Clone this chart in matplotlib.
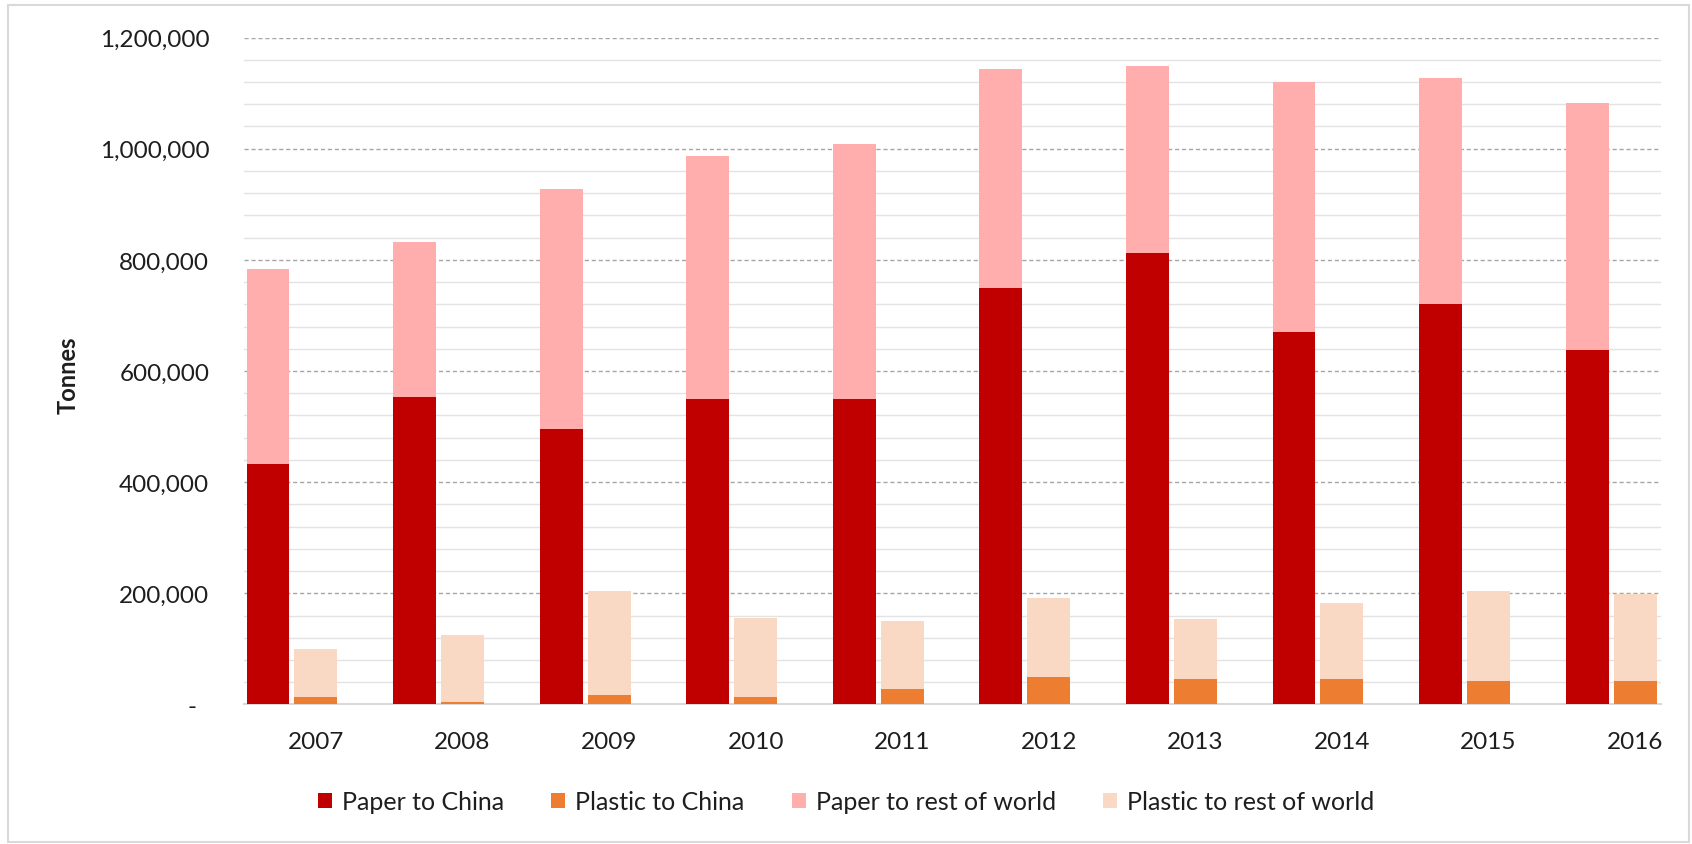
import matplotlib.pyplot as plt
from matplotlib.ticker import MultipleLocator, FuncFormatter
from matplotlib.patches import Rectangle
import numpy as np

plt.rcParams['font.family'] = ['Lato', 'DejaVu Sans']

# data (tonnes)
years = ['2007', '2008', '2009', '2010', '2011', '2012', '2013', '2014', '2015', '2016']
paper_china = [433000, 553000, 495000, 550000, 550000, 750000, 812000, 670000, 720000, 637000]
paper_total = [783000, 833000, 928000, 986000, 1008000, 1144000, 1148000, 1120000, 1128000, 1082000]
plastic_china = [13000, 5000, 17000, 14000, 27000, 50000, 46000, 46000, 42000, 42000]
plastic_total = [100000, 124500, 204000, 155000, 150000, 192000, 153000, 183000, 204000, 199000]

paper_rest = [t - c for t, c in zip(paper_total, paper_china)]
plastic_rest = [t - c for t, c in zip(plastic_total, plastic_china)]

c_paper_china = '#C00000'
c_plastic_china = '#ED7D31'
c_paper_rest = '#FFADAD'
c_plastic_rest = '#F9D9C4'
txt = '#1E1E1E'

fig = plt.figure(figsize=(16.92, 8.45), dpi=100)
ax = fig.add_axes([0.1442, 0.1651, 0.9817 - 0.1442, 0.9544 - 0.1651])

x = np.arange(len(years))
w = 0.293
off = 0.327

ax.bar(x - off, paper_china, w, color=c_paper_china, label='Paper to China', zorder=3)
ax.bar(x - off, paper_rest, w, bottom=paper_china, color=c_paper_rest, label='Paper to rest of world', zorder=3)
ax.bar(x, plastic_china, w, color=c_plastic_china, label='Plastic to China', zorder=3)
ax.bar(x, plastic_rest, w, bottom=plastic_china, color=c_plastic_rest, label='Plastic to rest of world', zorder=3)

ax.set_xlim(-0.491, 9.177)
ax.set_ylim(0, 1200000)

# gridlines: major every 200k dashed, minor every 40k solid
ax.yaxis.set_major_locator(MultipleLocator(200000))
ax.yaxis.set_minor_locator(MultipleLocator(40000))
ax.grid(axis='y', which='major', color='#A6A6A6', linestyle=(0, (3, 2)), linewidth=1, zorder=0)
ax.grid(axis='y', which='minor', color='#E3E3E3', linestyle='-', linewidth=1, zorder=0)
ax.yaxis.set_major_formatter(FuncFormatter(lambda v, p: '-  ' if v == 0 else f'{int(v):,}'))

ax.set_xticks(x)
ax.set_xticklabels(years)
ax.tick_params(axis='both', which='both', length=0, labelsize=17.5, colors=txt)
ax.tick_params(axis='y', pad=25)
ax.tick_params(axis='x', pad=19)

for s in ['top', 'right', 'left']:
    ax.spines[s].set_visible(False)
ax.spines['bottom'].set_color('#D9D9D9')
ax.spines['bottom'].set_linewidth(1.5)

fig.text(68 / 1692, 1 - 375 / 845, 'Tonnes', rotation=90, ha='center', va='center',
         fontsize=17, fontweight='bold', color=txt)

handles, labels = ax.get_legend_handles_labels()
order = [0, 2, 1, 3]
fig.legend([handles[i] for i in order], [labels[i] for i in order], loc='center',
           bbox_to_anchor=(0.5, 1 - 803 / 845), ncol=4, frameon=False, fontsize=18,
           handlelength=0.55, handleheight=0.55, handletextpad=0.4, columnspacing=1.9,
           labelcolor=txt)

# light chart-area border
fig.patches.append(Rectangle((8 / 1692, 2 / 845), 1681 / 1692, 837 / 845, transform=fig.transFigure,
                             fill=False, edgecolor='#D9D9D9', linewidth=1.5))

fig.savefig('out.png', dpi=100)
